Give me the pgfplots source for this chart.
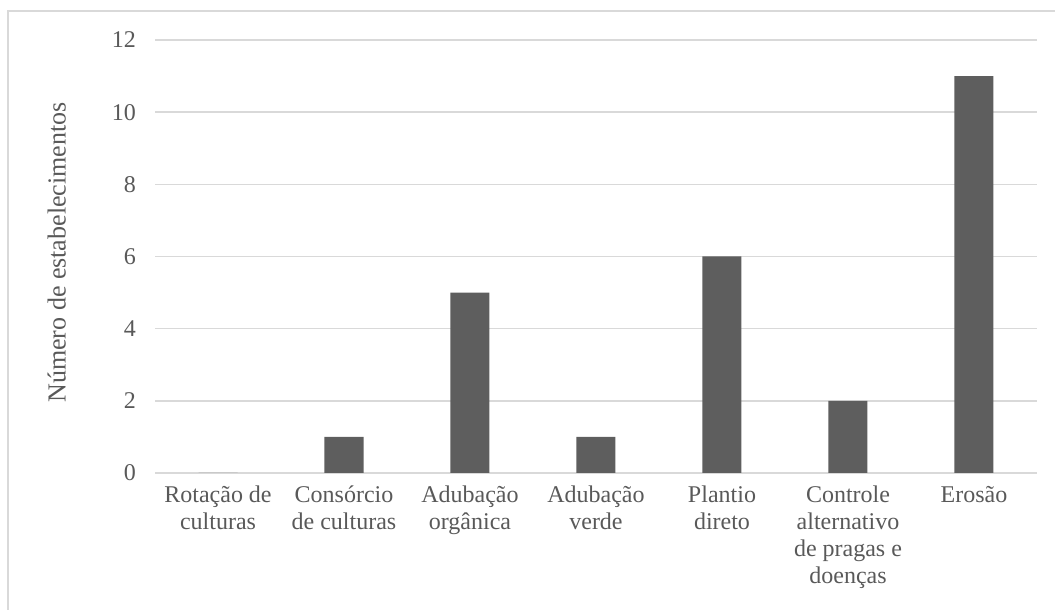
\documentclass[border=0pt]{standalone}
\usepackage{pgfplots}
\pgfplotsset{compat=1.18}
\usepackage{fontspec}
\setmainfont{Liberation Serif}
\definecolor{txt}{HTML}{595959}
\definecolor{bar}{HTML}{5E5E5E}
\definecolor{grd}{HTML}{D9D9D9}
\begin{document}
\begin{tikzpicture}
\useasboundingbox (0,0) rectangle (527.5pt,305pt);
\draw[grd, line width=0.8pt] (4pt,0) -- (4pt,299.5pt) -- (527.5pt,299.5pt);
\begin{axis}[
    at={(77.5pt,68.5pt)}, anchor=south west,
    scale only axis,
    width=441pt, height=216.5pt,
    ybar, bar width=19.5pt,
    xmin=-0.5, xmax=6.5,
    ymin=0, ymax=12,
    ytick={0,2,...,12},
    xtick=data,
    xticklabels={
        {Rotação de\\culturas},
        {Consórcio\\de culturas},
        {Adubação\\orgânica},
        {Adubação\\verde},
        {Plantio\\direto},
        {Controle\\alternativo\\de pragas e\\doenças},
        {Erosão}},
    xticklabel style={align=center, anchor=north, yshift=-3pt},
    major tick length=0pt,
    ymajorgrids, grid style={grd, line width=0.8pt},
    axis x line*=bottom, axis y line*=left,
    x axis line style={grd, line width=0.8pt},
    y axis line style={draw=none},
    ylabel={Número de estabelecimentos},
    ylabel style={at={(axis description cs:0,0.5)}, anchor=south, yshift=41pt, xshift=2pt,
        font=\fontsize{13}{15}\selectfont},
    every tick label/.append style={font=\fontsize{12}{13.5}\selectfont, text=txt},
    label style={text=txt},
    yticklabel style={xshift=-6pt},
    /pgf/number format/assume math mode=true,
]
\addplot[fill=bar, draw=none] coordinates {
    (0,0) (1,1) (2,5) (3,1) (4,6) (5,2) (6,11)
};
\end{axis}
\end{tikzpicture}
\end{document}
